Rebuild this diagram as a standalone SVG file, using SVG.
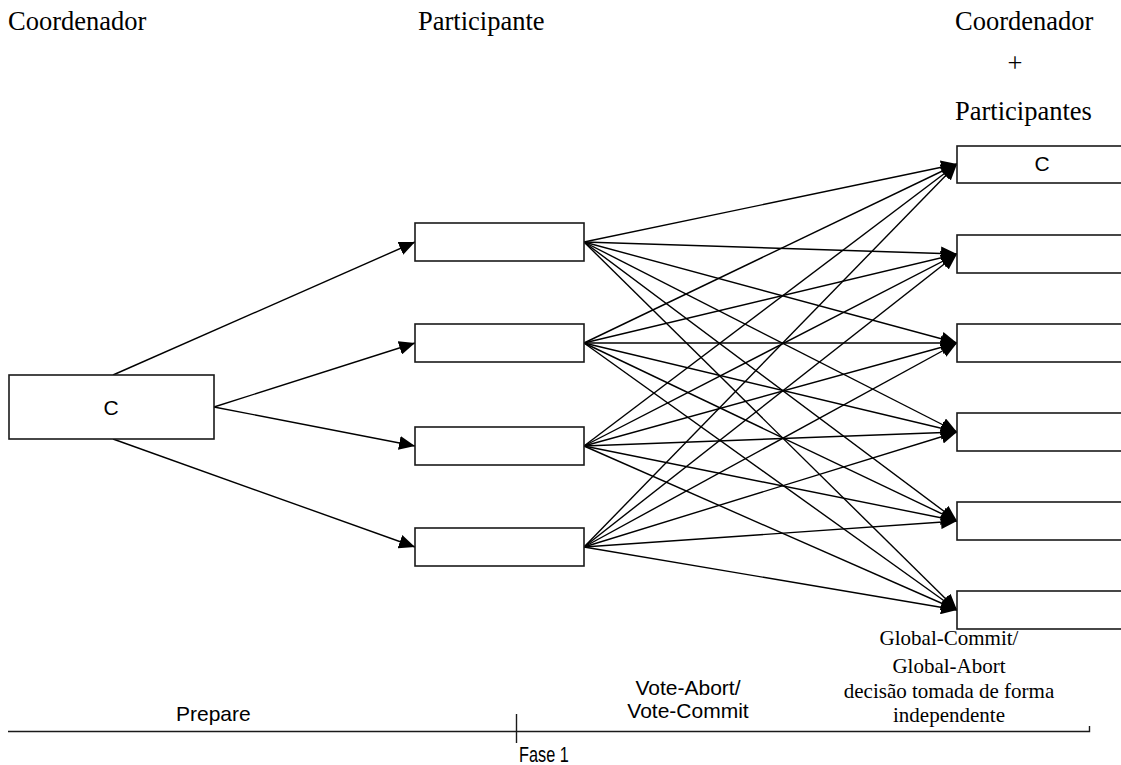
<svg xmlns="http://www.w3.org/2000/svg" width="1121" height="765" viewBox="0 0 1121 765">
  <style>
    .box { fill: #fff; stroke: #1a1a1a; stroke-width: 1.6; }
    .edge { fill: none; stroke: #000; stroke-width: 1.4; marker-end: url(#head); }
    .rule { fill: none; stroke: #1a1a1a; stroke-width: 1.4; }
    .title { font-family: "Liberation Serif", "Times New Roman", serif; font-size: 26.5px; fill: #000; }
    .note { font-family: "Liberation Serif", "Times New Roman", serif; font-size: 21px; fill: #000; text-anchor: middle; }
    .sans { font-family: "Liberation Sans", Arial, sans-serif; font-size: 21px; fill: #000; }
  </style>
  <defs>
    <marker id="head" markerUnits="userSpaceOnUse" markerWidth="17" markerHeight="14" refX="16" refY="7" orient="auto">
      <path d="M0,0 L16,7 L0,14 z" fill="#000"/>
    </marker>
  </defs>
  <rect width="1121" height="765" fill="#fff"/>

  <!-- column headings -->
  <text class="title" x="8" y="30">Coordenador</text>
  <text class="title" x="418" y="30">Participante</text>
  <text class="title" x="955" y="30">Coordenador</text>
  <text class="title" x="1015" y="72" text-anchor="middle">+</text>
  <text class="title" x="955" y="120">Participantes</text>

  <!-- connectors -->
  <g id="connectors">
    <!-- prepare: coordinator to participants -->
    <line class="edge" x1="113" y1="375" x2="415" y2="242"/>
    <line class="edge" x1="214" y1="407" x2="415" y2="343"/>
    <line class="edge" x1="214" y1="407" x2="415" y2="446"/>
    <line class="edge" x1="113" y1="439" x2="415" y2="547"/>
    <!-- votes: each participant to every node -->
    <line class="edge" x1="584" y1="242" x2="957" y2="164"/>
    <line class="edge" x1="584" y1="242" x2="957" y2="254"/>
    <line class="edge" x1="584" y1="242" x2="957" y2="343"/>
    <line class="edge" x1="584" y1="242" x2="957" y2="432"/>
    <line class="edge" x1="584" y1="242" x2="957" y2="521"/>
    <line class="edge" x1="584" y1="242" x2="957" y2="610"/>
    <line class="edge" x1="584" y1="343" x2="957" y2="164"/>
    <line class="edge" x1="584" y1="343" x2="957" y2="254"/>
    <line class="edge" x1="584" y1="343" x2="957" y2="343"/>
    <line class="edge" x1="584" y1="343" x2="957" y2="432"/>
    <line class="edge" x1="584" y1="343" x2="957" y2="521"/>
    <line class="edge" x1="584" y1="343" x2="957" y2="610"/>
    <line class="edge" x1="584" y1="446" x2="957" y2="164"/>
    <line class="edge" x1="584" y1="446" x2="957" y2="254"/>
    <line class="edge" x1="584" y1="446" x2="957" y2="343"/>
    <line class="edge" x1="584" y1="446" x2="957" y2="432"/>
    <line class="edge" x1="584" y1="446" x2="957" y2="521"/>
    <line class="edge" x1="584" y1="446" x2="957" y2="610"/>
    <line class="edge" x1="584" y1="547" x2="957" y2="164"/>
    <line class="edge" x1="584" y1="547" x2="957" y2="254"/>
    <line class="edge" x1="584" y1="547" x2="957" y2="343"/>
    <line class="edge" x1="584" y1="547" x2="957" y2="432"/>
    <line class="edge" x1="584" y1="547" x2="957" y2="521"/>
    <line class="edge" x1="584" y1="547" x2="957" y2="610"/>
  </g>

  <!-- coordinator -->
  <g id="coord">
    <rect class="box" x="9" y="375" width="205" height="64"/>
    <text class="sans" x="111" y="415" text-anchor="middle">C</text>
  </g>

  <!-- participants -->
  <g id="p1"><rect class="box" x="415" y="223" width="169" height="38"/></g>
  <g id="p2"><rect class="box" x="415" y="324" width="169" height="38"/></g>
  <g id="p3"><rect class="box" x="415" y="427" width="169" height="38"/></g>
  <g id="p4"><rect class="box" x="415" y="528" width="169" height="38"/></g>

  <!-- decision nodes (coordinator + participants), running off the right edge -->
  <g id="d1">
    <rect class="box" x="957" y="146" width="180" height="37"/>
    <text class="sans" x="1042" y="171" text-anchor="middle">C</text>
  </g>
  <g id="d2"><rect class="box" x="957" y="235" width="180" height="38"/></g>
  <g id="d3"><rect class="box" x="957" y="324" width="180" height="38"/></g>
  <g id="d4"><rect class="box" x="957" y="413" width="180" height="38"/></g>
  <g id="d5"><rect class="box" x="957" y="502" width="180" height="38"/></g>
  <g id="d6"><rect class="box" x="957" y="591" width="180" height="38"/></g>

  <!-- phase labels -->
  <text class="note" x="949" y="645">Global-Commit/</text>
  <text class="note" x="949" y="673">Global-Abort</text>
  <text class="note" x="949" y="698">decisão tomada de forma</text>
  <text class="note" x="949" y="722">independente</text>

  <text class="sans" x="688" y="695" text-anchor="middle">Vote-Abort/</text>
  <text class="sans" x="688" y="718" text-anchor="middle">Vote-Commit</text>
  <text class="sans" x="176" y="721">Prepare</text>

  <!-- timeline -->
  <g id="timeline">
    <path class="rule" d="M8,731.5 H1089.5 V726"/>
    <line class="rule" x1="516.5" y1="714" x2="516.5" y2="743"/>
    <text class="sans" transform="translate(519 762) scale(0.74 1)" x="0" y="0" style="font-size:22px">Fase 1</text>
  </g>
</svg>
